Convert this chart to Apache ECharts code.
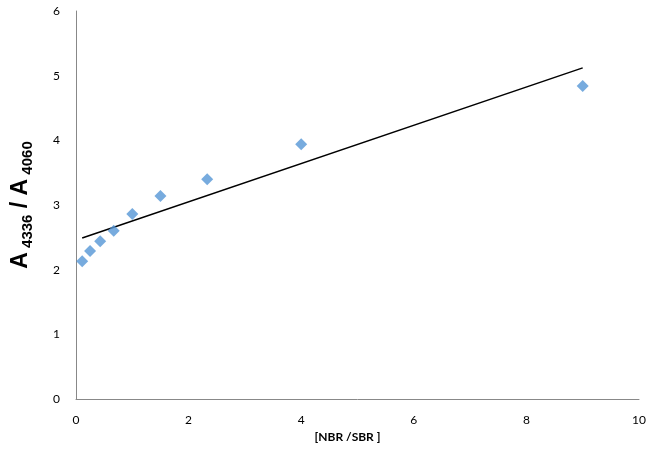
<!DOCTYPE html>
<html>
<head>
<meta charset="utf-8">
<script src="https://cdn.jsdelivr.net/npm/echarts@6/dist/echarts.min.js"></script>
<style>
  html, body { margin: 0; padding: 0; background: #fff; }
  #chart { width: 650px; height: 453px; }
</style>
</head>
<body>
<div id="chart"></div>
<script>
// NBR/SBR ratio and absorbance ratio
const ratioX = [0.11, 0.25, 0.43, 0.67, 1.0, 1.5, 2.33, 4.0, 9.0];
const absRatio = [2.13, 2.29, 2.44, 2.60, 2.86, 3.14, 3.40, 3.94, 4.84];
// linear trendline end points
const trendX = [0.11, 9.0];
const trendY = [2.49, 5.12];

const chart = echarts.init(document.getElementById('chart'));

const font = 'Lato, "Open Sans", sans-serif';

chart.setOption({
  animation: false,
  grid: { left: 76, right: 11, top: 11, bottom: 54 },
  xAxis: {
    type: 'value',
    min: 0, max: 10, interval: 2,
    name: '[NBR /SBR ]',
    nameLocation: 'middle',
    nameGap: 32,
    nameTextStyle: { fontFamily: font, fontWeight: 'bold', fontSize: 12, color: '#000', padding: [0, 20, 0, 0] },
    axisLine: { lineStyle: { color: '#888', width: 1 } },
    axisTick: { show: false },
    axisLabel: { fontFamily: font, fontSize: 12, color: '#000', margin: 15 },
    splitLine: { show: false }
  },
  yAxis: {
    type: 'value',
    min: 0, max: 6, interval: 1,
    name: '{a|A}{s| 4336}{a| / A}{s| 4060}',
    nameLocation: 'middle',
    nameRotate: 90,
    nameGap: 44,
    nameTextStyle: {
      rich: {
        a: { fontFamily: 'Liberation Sans, Arial, sans-serif', fontWeight: 'bold', fontSize: 23, color: '#000', verticalAlign: 'bottom' },
        s: { fontFamily: 'Liberation Sans, Arial, sans-serif', fontWeight: 'bold', fontSize: 15, color: '#000', verticalAlign: 'bottom', padding: [0, 0, -3, 0] }
      }
    },
    axisLine: { show: true, lineStyle: { color: '#888', width: 1 } },
    axisTick: { show: false },
    axisLabel: { fontFamily: font, fontSize: 12, color: '#000', margin: 16 },
    splitLine: { show: false }
  },
  series: [
    {
      type: 'scatter',
      symbol: 'diamond',
      symbolSize: [12, 12],
      itemStyle: { color: '#5596d6' },
      data: ratioX.map((x, i) => [x, absRatio[i]]),
      z: 3
    },
    {
      type: 'line',
      showSymbol: false,
      symbol: 'none',
      lineStyle: { color: '#000', width: 1.5 },
      data: trendX.map((x, i) => [x, trendY[i]]),
      z: 2
    }
  ]
});
</script>
</body>
</html>
